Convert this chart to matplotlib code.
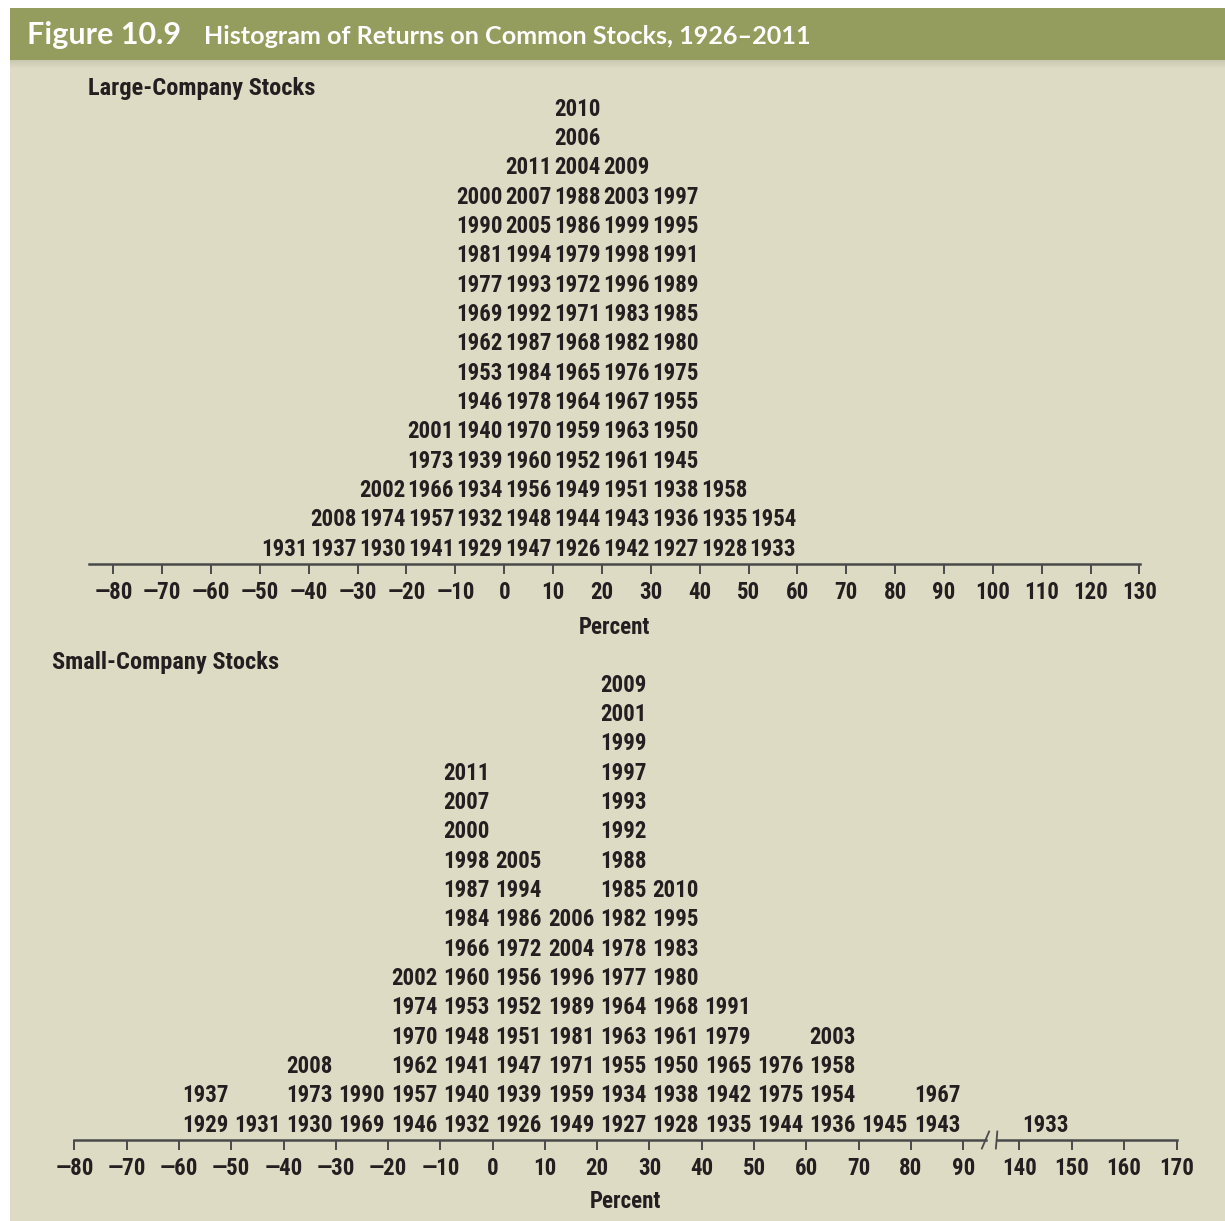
import matplotlib
matplotlib.use("Agg")
import matplotlib.pyplot as plt
from matplotlib.patches import Rectangle
from matplotlib import font_manager

# ---------------- data ----------------
large_bins = [-50, -40, -30, -20, -10, 0, 10, 20, 30, 40, 50]
large_years = [
    [1931],
    [1937, 2008],
    [1930, 1974, 2002],
    [1941, 1957, 1966, 1973, 2001],
    [1929, 1932, 1934, 1939, 1940, 1946, 1953, 1962, 1969, 1977, 1981, 1990, 2000],
    [1947, 1948, 1956, 1960, 1970, 1978, 1984, 1987, 1992, 1993, 1994, 2005, 2007, 2011],
    [1926, 1944, 1949, 1952, 1959, 1964, 1965, 1968, 1971, 1972, 1979, 1986, 1988, 2004, 2006, 2010],
    [1942, 1943, 1951, 1961, 1963, 1967, 1976, 1982, 1983, 1996, 1998, 1999, 2003, 2009],
    [1927, 1936, 1938, 1945, 1950, 1955, 1975, 1980, 1985, 1989, 1991, 1995, 1997],
    [1928, 1935, 1958],
    [1933, 1954],
]
large_ticks = list(range(-80, 131, 10))

small_bins = [-60, -50, -40, -30, -20, -10, 0, 10, 20, 30, 40, 50, 60, 70, 80, 140]
small_years = [
    [1929, 1937],
    [1931],
    [1930, 1973, 2008],
    [1969, 1990],
    [1946, 1957, 1962, 1970, 1974, 2002],
    [1932, 1940, 1941, 1948, 1953, 1960, 1966, 1984, 1987, 1998, 2000, 2007, 2011],
    [1926, 1939, 1947, 1951, 1952, 1956, 1972, 1986, 1994, 2005],
    [1949, 1959, 1971, 1981, 1989, 1996, 2004, 2006],
    [1927, 1934, 1955, 1963, 1964, 1977, 1978, 1982, 1985, 1988, 1992, 1993, 1997, 1999, 2001, 2009],
    [1928, 1938, 1950, 1961, 1968, 1980, 1983, 1995, 2010],
    [1935, 1942, 1965, 1979, 1991],
    [1944, 1975, 1976],
    [1936, 1954, 1958, 2003],
    [1945],
    [1943, 1967],
    [1933],
]
small_ticks_left = list(range(-80, 91, 10))
small_ticks_right = list(range(140, 171, 10))

title_fig = "Figure 10.9"
title_text = "Histogram of Returns on Common Stocks, 1926\u20132011"
panel1_title = "Large-Company Stocks"
panel2_title = "Small-Company Stocks"
xlabel = "Percent"

# ---------------- style ----------------
W, H = 1225, 1221
BG = "#dedbc5"
HEADER = "#949d5d"
INK = "#231f20"
AXC = "#4a4a4a"

available = {f.name for f in font_manager.fontManager.ttflist}

def pick(prefs):
    chosen = [p for p in prefs if p in available]
    return chosen + ["DejaVu Sans"]

COND = pick(["Roboto Condensed", "Archivo Narrow", "Fira Sans Condensed"])
HEAD = pick(["Lato", "Open Sans"])
FS = 16.5

def fx(px):
    return px / W

def fy(py):
    return 1 - py / H

fig = plt.figure(figsize=(W / 100, H / 100), dpi=100, facecolor="white")

# background panels
fig.patches.append(Rectangle((fx(10), 0), 1 - fx(10), fy(60), transform=fig.transFigure,
                             facecolor=BG, edgecolor="none", zorder=-10))
for i in range(8):
    fig.patches.append(Rectangle((fx(10), fy(60 + i + 1)), 1 - fx(10), 1 / H,
                                 transform=fig.transFigure,
                                 facecolor="#a8a690", alpha=0.35 * (1 - i / 8),
                                 edgecolor="none", zorder=-9))
fig.patches.append(Rectangle((fx(10), fy(60)), 1 - fx(10), (60 - 8) / H, transform=fig.transFigure,
                             facecolor=HEADER, edgecolor="none", zorder=-8))

fig.text(fx(27), fy(35), title_fig, color="white", fontsize=22, family=HEAD,
         fontweight="bold", va="center", ha="left")
fig.text(fx(204), fy(36), title_text, color="white", fontsize=18.1, family=HEAD,
         fontweight="bold", va="center", ha="left")

ROW = 29.35  # px per row

def make_axes(left_px, right_px, spine_py, top_py):
    ax = fig.add_axes([fx(left_px), fy(spine_py), (right_px - left_px) / W, (spine_py - top_py) / H])
    ax.set_facecolor("none")
    ax.set_zorder(5)
    for s in ("top", "right", "left"):
        ax.spines[s].set_visible(False)
    ax.spines["bottom"].set_color(AXC)
    ax.spines["bottom"].set_linewidth(1.8)
    ax.set_ylim(0, (spine_py - top_py) / ROW)
    ax.set_yticks([])
    ax.tick_params(axis="x", direction="out", length=7.5, width=1.4, color=AXC, pad=5,
                   labelsize=FS, labelcolor=INK)
    return ax

def fmt(v):
    return ("\u2014" + str(-v)) if v < 0 else str(v)

def style_ticklabels(ax):
    for lab in ax.get_xticklabels():
        lab.set_family(COND)
        lab.set_fontweight("bold")

def place_years(ax, bins, years):
    for b, col in zip(bins, years):
        for i, yr in enumerate(col):
            ax.text(b + 5, i + 0.5, str(yr), ha="center", va="center", fontsize=FS,
                    family=COND, fontweight="bold", color=INK)

# ---------------- top panel ----------------
scale1 = 48.86 / 10
zero1 = 504.2
ax1 = make_axes(89, 1140, 564, 90)
ax1.set_xlim((89 - zero1) / scale1, (1140 - zero1) / scale1)
ax1.set_xticks(large_ticks)
ax1.set_xticklabels([fmt(t) for t in large_ticks])
style_ticklabels(ax1)
place_years(ax1, large_bins, large_years)
fig.text(fx(614), fy(627), xlabel, ha="center", va="center", fontsize=FS, family=COND,
         fontweight="bold", color=INK)
fig.text(fx(88), fy(89), panel1_title, ha="left", va="center", fontsize=17.6, family=COND,
         fontweight="bold", color=INK)

# ---------------- bottom panel (broken axis) ----------------
scale2 = 5.227
zero2 = 492.7
axL = make_axes(74.4, 985.5, 1140, 668)
axL.set_xlim(-80, (985.5 - zero2) / scale2)
axL.set_xticks(small_ticks_left)
axL.set_xticklabels([fmt(t) for t in small_ticks_left])
style_ticklabels(axL)

zero_r = 1019 - 140 * scale2
axR = make_axes(996.6, 1176.5, 1140, 668)
axR.set_xlim((996.6 - zero_r) / scale2, 170)
axR.set_xticks(small_ticks_right)
axR.set_xticklabels([fmt(t) for t in small_ticks_right])
style_ticklabels(axR)

left_bins = [(b, y) for b, y in zip(small_bins, small_years) if b < 100]
right_bins = [(b, y) for b, y in zip(small_bins, small_years) if b >= 100]
place_years(axL, [b for b, _ in left_bins], [y for _, y in left_bins])
place_years(axR, [b for b, _ in right_bins], [y for _, y in right_bins])

# break marks (small slanted strokes at the gap)
for ax, xa in ((axL, 1.0), (axR, 0.0)):
    ax.plot([xa - 0.004, xa + 0.004], [-0.018, 0.018], transform=ax.transAxes,
            color=AXC, lw=1.3, clip_on=False)

fig.text(fx(625), fy(1202), xlabel, ha="center", va="center", fontsize=FS, family=COND,
         fontweight="bold", color=INK)
fig.text(fx(52), fy(663), panel2_title, ha="left", va="center", fontsize=17.6, family=COND,
         fontweight="bold", color=INK)

fig.savefig("out.png", dpi=100, facecolor="white")
